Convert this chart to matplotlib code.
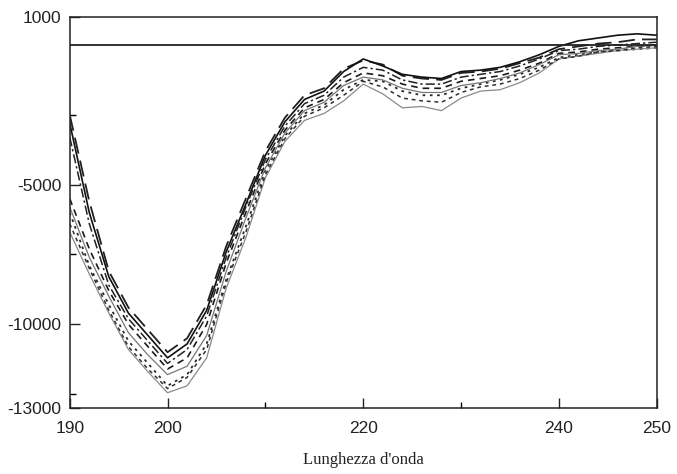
import matplotlib

matplotlib.use("Agg")
import matplotlib.pyplot as plt

plt.rcParams["font.family"] = ["Liberation Serif", "DejaVu Serif"]

wavelength = list(range(190, 251, 2))

curve_a = [-2500, -5600, -8100, -9400, -10200, -11000, -10500, -9300, -7200, -5500, -3800,
           -2600, -1800, -1550, -850, -550, -700, -1100, -1200, -1250, -1000,
           -950, -850, -650, -450, -150, -50, 50, 100, 200, 200]
curve_b = [-2800, -6000, -8300, -9600, -10400, -11200, -10700, -9500, -7400, -5700, -3950,
           -2750, -1950, -1650, -950, -500, -750, -1050, -1150, -1200, -950,
           -900, -800, -600, -350, -50, 150, 250, 350, 400, 350]
curve_c = [-3300, -6400, -8600, -9800, -10600, -11400, -10900, -9700, -7600, -5800, -4100,
           -2900, -2100, -1800, -1150, -800, -900, -1250, -1400, -1400, -1150,
           -1050, -950, -750, -500, -200, -150, -50, 0, 50, 100]
curve_d = [-5500, -7300, -8800, -10000, -10800, -11600, -11200, -10000, -7800, -6000, -4250,
           -3050, -2250, -1950, -1350, -1000, -1100, -1400, -1550, -1550, -1300,
           -1200, -1100, -900, -650, -300, -250, -150, -100, -50, 0]
curve_e = [-6000, -7900, -9300, -10600, -11400, -12200, -11800, -10700, -8400, -6500, -4500,
           -3250, -2450, -2150, -1600, -1250, -1300, -1650, -1800, -1800, -1550,
           -1400, -1250, -1050, -800, -450, -350, -250, -200, -150, -100]
curve_f = [-5800, -7600, -9000, -10300, -11100, -11800, -11500, -10400, -8100, -6200, -4400,
           -3150, -2350, -2050, -1450, -1150, -1250, -1550, -1700, -1700, -1450,
           -1350, -1200, -1000, -700, -350, -300, -200, -150, -50, 0]
curve_g = [-6700, -8200, -9600, -10900, -11700, -12450, -12200, -11200, -8700, -6900, -4750,
           -3450, -2700, -2450, -2000, -1400, -1750, -2250, -2200, -2350, -1900,
           -1650, -1600, -1350, -1000, -500, -400, -300, -200, -150, -100]
curve_h = [-6400, -8000, -9500, -10800, -11600, -12300, -11900, -10900, -8500, -6700, -4650,
           -3350, -2550, -2250, -1800, -1300, -1500, -1900, -2000, -2050, -1700,
           -1500, -1400, -1200, -900, -500, -400, -250, -200, -100, -50]

x_ticks = [190, 200, 220, 240, 250]
x_minor = [210, 230]
y_ticks = [1000, -5000, -10000, -13000]
y_labels = ["1000", "-5000", "-10000", "-13000"]
y_minor = [-2500, -7500, -12500]

styles = [
    (curve_a, dict(color="#202020", lw=1.3, ls=(0, (9, 4)))),
    (curve_b, dict(color="#111111", lw=1.2, ls="-")),
    (curve_c, dict(color="#222222", lw=1.1, ls=(0, (6, 2, 1.5, 2)))),
    (curve_d, dict(color="#1a1a1a", lw=1.2, ls=(0, (4, 3)))),
    (curve_e, dict(color="#2a2a2a", lw=1.3, ls=(0, (1.5, 2.5)))),
    (curve_f, dict(color="#777777", lw=0.9, ls="-")),
    (curve_g, dict(color="#8a8a8a", lw=0.9, ls="-")),
    (curve_h, dict(color="#303030", lw=1.1, ls=(0, (2.5, 2.5)))),
]

fig = plt.figure(figsize=(6.77, 4.74), dpi=100)
ax = fig.add_axes([0.103, 0.139, 0.867, 0.825])

for values, kw in styles:
    ax.plot(wavelength, values, **kw)

ax.axhline(0, color="#222222", lw=1.3)

ax.set_xlim(190, 250)
ax.set_ylim(-13000, 1000)

# tick numbers in the scan are a sans face, the axis title is serif
tick_font = dict(family=["Liberation Sans", "DejaVu Sans"], size=12.5)
ax.set_xticks(x_ticks)
ax.set_xticks(x_minor, minor=True)
ax.set_xticklabels([str(t) for t in x_ticks], fontdict=tick_font)
ax.set_yticks(y_ticks)
ax.set_yticks(y_minor, minor=True)
ax.set_yticklabels(y_labels, fontdict=tick_font)

ax.tick_params(which="major", direction="in", length=7, width=1.0, colors="#222222")
ax.tick_params(which="minor", direction="in", length=4, width=1.0)
ax.tick_params(axis="x", pad=9)
ax.tick_params(axis="y", pad=6)

for side in ax.spines.values():
    side.set_linewidth(1.1)
    side.set_color("#222222")

ax.set_xlabel("Lunghezza d'onda", fontsize=12, color="#222222", labelpad=12)

fig.savefig("out.png", dpi=100)
